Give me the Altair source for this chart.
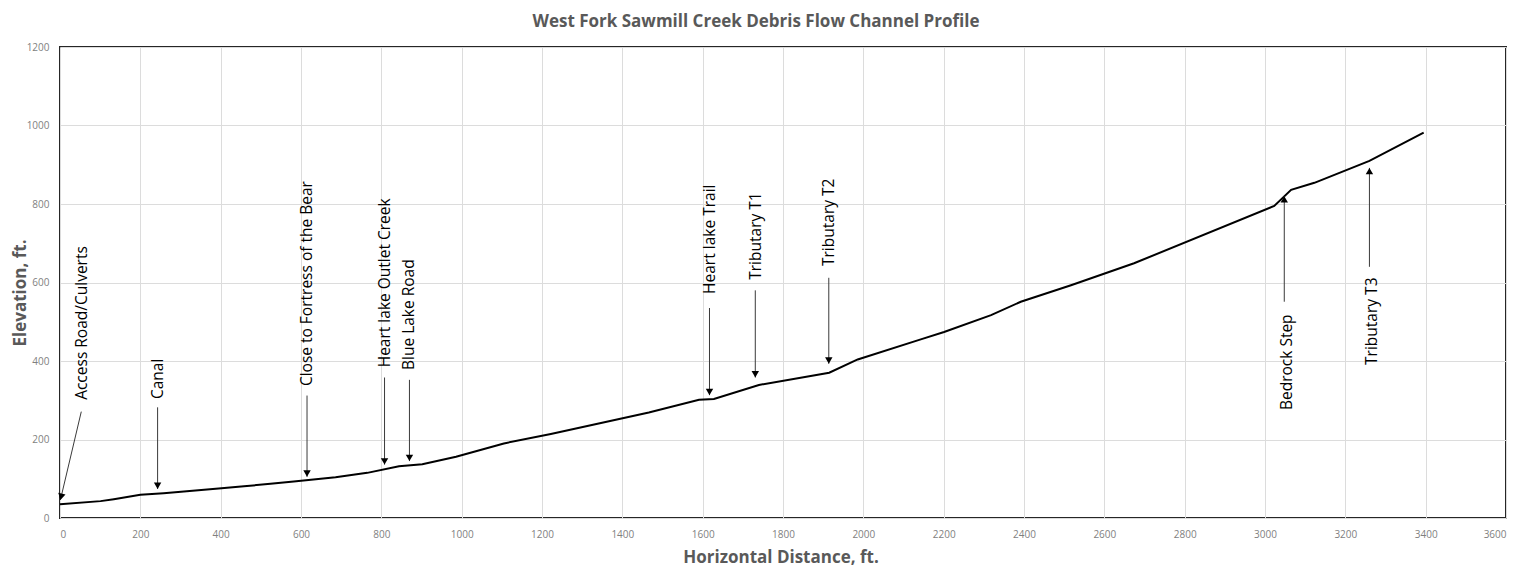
import math
import altair as alt
import pandas as pd

# ---- channel profile ----
dist = [0, 101, 134, 200, 258, 395, 458, 524, 582, 686, 765, 844, 902, 986,
        1105, 1222, 1466, 1591, 1628, 1740, 1915, 1986, 2143, 2201, 2318, 2392,
        2517, 2674, 3023, 3065, 3123, 3260, 3395]
elev = [35, 43, 48, 59, 63, 75, 81, 87, 93, 104, 115, 132, 137, 156,
        190, 214, 269, 301, 303, 339, 370, 404, 455, 474, 517, 551,
        593, 649, 795, 836, 854, 910, 982]

# ---- annotations ----
ann_labels = ["Access Road/Culverts", "Canal", "Close to Fortress of the Bear",
              "Heart lake Outlet Creek", "Blue Lake Road", "Heart lake Trail",
              "Tributary T1", "Tributary T2", "Bedrock Step", "Tributary T3"]
ann_text_x = [55, 244, 616, 808, 870, 1618, 1732, 1915, 3054, 3266]
ann_text_y = [301, 303, 336, 384, 377, 571, 607, 642, 275, 390]
arrow_x_start = [53, 243, 615, 808, 870, 1617, 1731, 1914, 3048, 3260]
arrow_y_start = [271, 282, 312, 358, 352, 535, 580, 612, 551, 640]
arrow_x_end = [1, 243, 615, 808, 870, 1617, 1731, 1914, 3048, 3260]
arrow_y_end = [46, 74, 105, 136, 145, 313, 358, 393, 820, 892]

x_ticks = list(range(0, 3601, 200))
y_ticks = list(range(0, 1201, 200))

W, H = 1446, 471
X_MAX, Y_MAX = 3600, 1200
PX_X = W / X_MAX
PX_Y = H / Y_MAX
HEAD_SIZE = 55
HEAD_HALF = math.sqrt(3) * math.sqrt(HEAD_SIZE) / 4  # centre-to-tip, px

profile = pd.DataFrame({"x": dist, "y": elev})
texts = pd.DataFrame({"x": ann_text_x, "y": ann_text_y, "label": ann_labels})

arrows = []
for xs, ys, xe, ye in zip(arrow_x_start, arrow_y_start, arrow_x_end, arrow_y_end):
    dxp = (xe - xs) * PX_X
    dyp = -(ye - ys) * PX_Y
    L = math.hypot(dxp, dyp)
    ux, uy = dxp / L, dyp / L
    ang = math.degrees(math.atan2(-dxp, dyp)) % 360
    hx = xe - ux * HEAD_HALF / PX_X
    hy = ye + uy * HEAD_HALF / PX_Y
    arrows.append({"x": xs, "y": ys, "x2": xe, "y2": ye, "hx": hx, "hy": hy, "ang": ang})
arrows = pd.DataFrame(arrows)

FONT = "Open Sans"

x_enc = alt.X("x:Q",
              scale=alt.Scale(domain=[0, X_MAX], nice=False, zero=False),
              axis=alt.Axis(values=x_ticks, title="Horizontal Distance, ft.",
                            format="d", titleX=720.5, titleY=39,
                            titleBaseline="middle", titleAlign="center"))
y_enc = alt.Y("y:Q",
              scale=alt.Scale(domain=[0, Y_MAX], nice=False),
              axis=alt.Axis(values=y_ticks, title="Elevation, ft.", format="d",
                            titleX=-39.5, titleY=245.5, titleAngle=270,
                            titleBaseline="middle", titleAlign="center"))

line = alt.Chart(profile).mark_line(color="black", strokeWidth=2).encode(
    x=x_enc, y=y_enc)

rules = alt.Chart(arrows).mark_rule(color="#3a3a3a", strokeWidth=1).encode(
    x="x:Q", y="y:Q", x2="x2:Q", y2="y2:Q")

heads = alt.Chart(arrows).mark_point(
    shape="triangle-down", filled=True, color="black", size=HEAD_SIZE, opacity=1
).encode(x=alt.X("hx:Q"), y=alt.Y("hy:Q"), angle=alt.Angle("ang:Q", scale=None))

labels = alt.Chart(texts).mark_text(
    angle=270, align="left", baseline="middle", font=FONT, fontSize=15.5,
    color="black"
).encode(x="x:Q", y="y:Q", text="label:N")

chart = alt.layer(line, rules, heads, labels).properties(
    width=W, height=H,
    title=alt.TitleParams(
        "West Fork Sawmill Creek Debris Flow Channel Profile",
        anchor="middle", frame="group", font=FONT, fontSize=17,
        fontWeight="bold", color="#595959", offset=11, dx=-27),
    autosize=alt.AutoSizeParams(type="none"),
    padding={"left": 52, "top": 39, "right": 16, "bottom": 52},
).configure_view(
    stroke="#262626", strokeWidth=2
).configure_axis(
    grid=True, gridColor="#dcdcdc", gridWidth=1, domain=False, ticks=False,
    labelColor="#7f7f7f", labelFont=FONT, labelFontSize=10, labelPadding=11,
    titleFont=FONT, titleFontSize=17, titleFontWeight="bold",
    titleColor="#595959"
)

chart.save("out.html", embed_options={"renderer": "svg", "actions": False})
